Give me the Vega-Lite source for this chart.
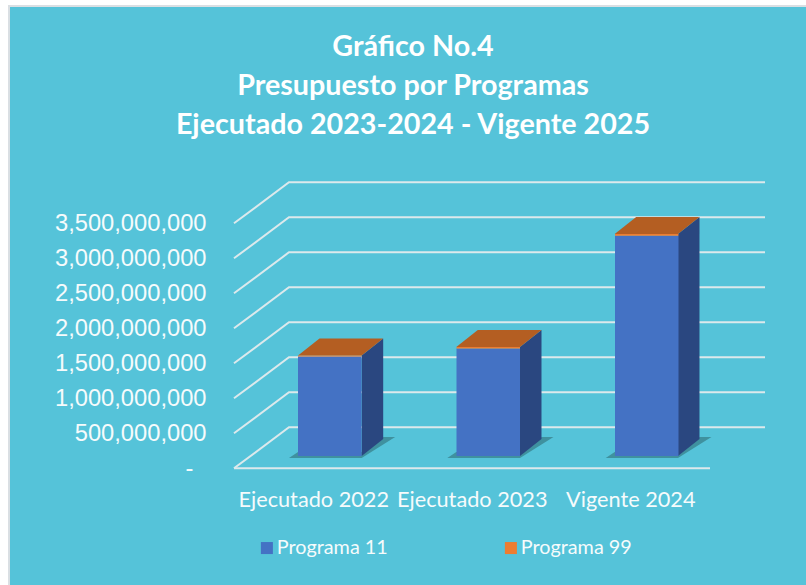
{
"$schema":"https://vega.github.io/schema/vega-lite/v6.json",
"width":800,"height":582,
"autosize":"none",
"padding":{"left":9,"top":6,"right":-3,"bottom":-3},
"background":"#FFFFFF",
"view":{"fill":"#55C3D9","stroke":"#DADFE3","strokeWidth":2},
"title":{"text":["Gráfico No.4","Presupuesto por Programas","Ejecutado 2023-2024 - Vigente 2025"],"font":"Lato","fontSize":28.7,"fontWeight":"bold","color":"#FFFFFF","lineHeight":39,"anchor":"middle","dx":4,"offset":-157,"baseline":"alphabetic"},
"config":{"axisY":{"labelFont":"Liberation Sans"},"axisX":{"labelFont":"Lato"}},
"datasets":{
"barras":[
{"categoria":"Ejecutado 2022","programa":"Programa 11","valor":1420000000},
{"categoria":"Ejecutado 2022","programa":"Programa 99","valor":15700000},
{"categoria":"Ejecutado 2023","programa":"Programa 11","valor":1535000000},
{"categoria":"Ejecutado 2023","programa":"Programa 99","valor":22000000},
{"categoria":"Vigente 2024","programa":"Programa 11","valor":3145000000},
{"categoria":"Vigente 2024","programa":"Programa 99","valor":26000000}
],
"rejilla":[
{"nivel":"0","posicion":0,"altura":0},{"nivel":"0","posicion":0.3466,"altura":585700000},{"nivel":"0","posicion":3.3466,"altura":585700000},
{"nivel":"piso","posicion":0,"altura":0},{"nivel":"piso","posicion":3,"altura":0},
{"nivel":"500","posicion":0,"altura":500000000},{"nivel":"500","posicion":0.3466,"altura":1085700000},{"nivel":"500","posicion":3.3466,"altura":1085700000},
{"nivel":"1000","posicion":0,"altura":1000000000},{"nivel":"1000","posicion":0.3466,"altura":1585700000},{"nivel":"1000","posicion":3.3466,"altura":1585700000},
{"nivel":"1500","posicion":0,"altura":1500000000},{"nivel":"1500","posicion":0.3466,"altura":2085700000},{"nivel":"1500","posicion":3.3466,"altura":2085700000},
{"nivel":"2000","posicion":0,"altura":2000000000},{"nivel":"2000","posicion":0.3466,"altura":2585700000},{"nivel":"2000","posicion":3.3466,"altura":2585700000},
{"nivel":"2500","posicion":0,"altura":2500000000},{"nivel":"2500","posicion":0.3466,"altura":3085700000},{"nivel":"2500","posicion":3.3466,"altura":3085700000},
{"nivel":"3000","posicion":0,"altura":3000000000},{"nivel":"3000","posicion":0.3466,"altura":3585700000},{"nivel":"3000","posicion":3.3466,"altura":3585700000},
{"nivel":"3500","posicion":0,"altura":3500000000},{"nivel":"3500","posicion":0.3466,"altura":4085700000},{"nivel":"3500","posicion":3.3466,"altura":4085700000}
],
"sombras":[
{"barra":"a","posicion":0.3466,"abajo":147100000,"arriba":147100000},{"barra":"a","posicion":0.4034,"abajo":147100000,"arriba":232900000},{"barra":"a","posicion":0.8048,"abajo":147100000,"arriba":232900000},{"barra":"a","posicion":0.9403,"abajo":338600000,"arriba":447100000},{"barra":"a","posicion":1.0159,"abajo":447100000,"arriba":447100000},
{"barra":"b","posicion":1.3443,"abajo":147100000,"arriba":147100000},{"barra":"b","posicion":1.401,"abajo":147100000,"arriba":232900000},{"barra":"b","posicion":1.8025,"abajo":147100000,"arriba":232900000},{"barra":"b","posicion":1.938,"abajo":338600000,"arriba":447100000},{"barra":"b","posicion":2.0136,"abajo":447100000,"arriba":447100000},
{"barra":"c","posicion":2.3426,"abajo":147100000,"arriba":147100000},{"barra":"c","posicion":2.3993,"abajo":147100000,"arriba":232900000},{"barra":"c","posicion":2.7982,"abajo":147100000,"arriba":232900000},{"barra":"c","posicion":2.9337,"abajo":338600000,"arriba":447100000},{"barra":"c","posicion":3.0093,"abajo":447100000,"arriba":447100000}
],
"lados":[
{"barra":"a","posicion":0.8048,"abajo":175700000,"arriba":1611400000},{"barra":"a","posicion":0.9403,"abajo":418600000,"arriba":1854300000},
{"barra":"b","posicion":1.8025,"abajo":175700000,"arriba":1732900000},{"barra":"b","posicion":1.938,"abajo":418600000,"arriba":1975700000},
{"barra":"c","posicion":2.7982,"abajo":175700000,"arriba":3347100000},{"barra":"c","posicion":2.9337,"abajo":418600000,"arriba":3590000000}
],
"tapas":[
{"barra":"a","posicion":0.4034,"abajo":1611400000,"arriba":1611400000},{"barra":"a","posicion":0.5389,"abajo":1611400000,"arriba":1854300000},{"barra":"a","posicion":0.8048,"abajo":1611400000,"arriba":1854300000},{"barra":"a","posicion":0.9403,"abajo":1854300000,"arriba":1854300000},
{"barra":"b","posicion":1.401,"abajo":1732900000,"arriba":1732900000},{"barra":"b","posicion":1.5365,"abajo":1732900000,"arriba":1975700000},{"barra":"b","posicion":1.8025,"abajo":1732900000,"arriba":1975700000},{"barra":"b","posicion":1.938,"abajo":1975700000,"arriba":1975700000},
{"barra":"c","posicion":2.3993,"abajo":3347100000,"arriba":3347100000},{"barra":"c","posicion":2.5348,"abajo":3347100000,"arriba":3590000000},{"barra":"c","posicion":2.7982,"abajo":3347100000,"arriba":3590000000},{"barra":"c","posicion":2.9337,"abajo":3590000000,"arriba":3590000000}
]
},
"resolve":{"scale":{"x":"independent","y":"independent"},"axis":{"x":"independent","y":"independent"}},
"layer":[
{
"layer":[
{"data":{"name":"rejilla"},"mark":{"type":"line","stroke":"#DCE9EC","strokeWidth":2,"clip":false},
 "encoding":{
  "x":{"field":"posicion","type":"quantitative","scale":{"domain":[0,3],"range":[225,701],"nice":false,"zero":false},"axis":null},
  "y":{"field":"altura","type":"quantitative","scale":{"domain":[0,3500000000],"range":[462.3,217.3],"nice":false,"zero":false},
   "axis":{"orient":"left","values":[0,500000000,1000000000,1500000000,2000000000,2500000000,3000000000,3500000000],"labelExpr":"datum.value==0?'-':format(datum.value,',')","offset":-197,"labelPadding":{"condition":{"test":"datum.value==0","value":13},"value":0},"ticks":false,"domain":false,"grid":false,"title":null,"labelFont":"Liberation Sans","labelFontSize":23.7,"labelColor":"#F6FBFC","labelOverlap":false}},
  "detail":{"field":"nivel","type":"nominal"}}},
{"data":{"name":"sombras"},"mark":{"type":"area","fill":"#3D8C98","opacity":0.9},
 "encoding":{"x":{"field":"posicion","type":"quantitative"},"y":{"field":"arriba","type":"quantitative"},"y2":{"field":"abajo"},"detail":{"field":"barra","type":"nominal"}}},
{"data":{"name":"lados"},"mark":{"type":"area","fill":"#2A4780"},
 "encoding":{"x":{"field":"posicion","type":"quantitative"},"y":{"field":"arriba","type":"quantitative"},"y2":{"field":"abajo"},"detail":{"field":"barra","type":"nominal"}}},
{"data":{"name":"tapas"},"mark":{"type":"area","fill":"#B45E22"},
 "encoding":{"x":{"field":"posicion","type":"quantitative"},"y":{"field":"arriba","type":"quantitative"},"y2":{"field":"abajo"},"detail":{"field":"barra","type":"nominal"}}}
]
},
{"data":{"name":"barras"},"mark":{"type":"bar","size":63.5},
 "encoding":{
  "x":{"field":"categoria","type":"nominal","sort":null,"scale":{"range":[241.5,717],"paddingInner":0,"paddingOuter":0},
   "axis":{"orient":"bottom","offset":-89,"labelOffset":-16,"labelAngle":0,"labelPadding":0,"ticks":false,"domain":false,"grid":false,"title":null,"labelFont":"Lato","labelFontSize":21.7,"labelColor":"#F6FBFC","labelOverlap":false,"labelLimit":300,"labelBaseline":"middle"}},
  "y":{"field":"valor","type":"quantitative","stack":"zero","scale":{"domain":[0,3500000000],"range":[450,205],"nice":false,"zero":false},"axis":null},
  "color":{"field":"programa","type":"nominal","scale":{"domain":["Programa 11","Programa 99"],"range":["#4472C4","#ED7D31"]},
   "legend":{"orient":"none","legendX":248,"legendY":532,"direction":"horizontal","columns":2,"columnPadding":113,"title":null,"symbolType":"square","symbolSize":144,"symbolStrokeWidth":0,"labelFont":"Lato","labelFontSize":19.8,"labelColor":"#F6FBFC","labelOffset":0,"labelLimit":200}},
  "order":{"field":"programa","sort":"ascending"}}}
]
}
